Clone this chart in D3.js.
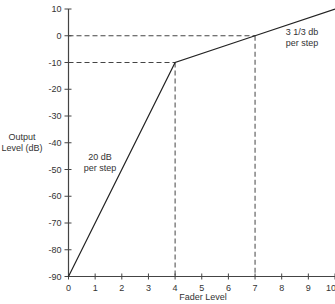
<!DOCTYPE html>
<html>
<head>
<meta charset="utf-8">
<script src="https://cdn.jsdelivr.net/npm/d3@7"></script>
<style>
  body { margin: 0; background: #fff; }
  text { font-family: "Liberation Sans", Arial, sans-serif; font-size: 9px; fill: #333; }
</style>
</head>
<body>
<div id="chart"></div>
<script>
// Fader curve data
var faderLevels = [0, 4, 7, 10];
var outputLevels = [-90, -10, 0, 10];
var xTicks = [0, 1, 2, 3, 4, 5, 6, 7, 8, 9, 10];
var yTicks = [10, 0, -10, -20, -30, -40, -50, -60, -70, -80, -90];

var svgWidth = 335;
var svgHeight = 304;

var svg = d3.select("#chart")
  .append("svg")
  .attr("width", svgWidth)
  .attr("height", svgHeight);

var xScale = d3.scaleLinear().domain([0, 10]).range([68.5, 335]);
var yScale = d3.scaleLinear().domain([-90, 10]).range([276.5, 9]);

var stroke = "#444";

// y axis
svg.append("line")
  .attr("x1", xScale(0)).attr("x2", xScale(0))
  .attr("y1", yScale(10)).attr("y2", yScale(-90))
  .attr("stroke", stroke).attr("stroke-width", 1.2);

svg.selectAll(".ytick")
  .data(yTicks)
  .enter()
  .append("line")
  .attr("x1", xScale(0) - 4).attr("x2", xScale(0) + 3)
  .attr("y1", d => yScale(d)).attr("y2", d => yScale(d))
  .attr("stroke", stroke);

svg.selectAll(".ylabel")
  .data(yTicks)
  .enter()
  .append("text")
  .attr("x", xScale(0) - 7)
  .attr("y", d => yScale(d))
  .attr("dy", "0.35em")
  .style("text-anchor", "end")
  .text(d => d);

// x axis
svg.append("line")
  .attr("x1", xScale(0)).attr("x2", xScale(10))
  .attr("y1", yScale(-90)).attr("y2", yScale(-90))
  .attr("stroke", stroke).attr("stroke-width", 1.2);

svg.selectAll(".xtick")
  .data(xTicks)
  .enter()
  .append("line")
  .attr("x1", d => xScale(d)).attr("x2", d => xScale(d))
  .attr("y1", yScale(-90) - 3).attr("y2", yScale(-90) + 3)
  .attr("stroke", stroke);

svg.selectAll(".xlabel")
  .data(xTicks)
  .enter()
  .append("text")
  .attr("x", d => d === 10 ? xScale(d) - 4 : xScale(d))
  .attr("y", yScale(-90) + 14)
  .style("text-anchor", "middle")
  .text(d => d);

// dashed guides
var guides = [
  [[0, -10], [4, -10]],
  [[0, 0], [7, 0]],
  [[4, -10], [4, -90]],
  [[7, 0], [7, -90]]
];
svg.selectAll(".guide")
  .data(guides)
  .enter()
  .append("line")
  .attr("x1", d => xScale(d[0][0])).attr("y1", d => yScale(d[0][1]))
  .attr("x2", d => xScale(d[1][0])).attr("y2", d => yScale(d[1][1]))
  .attr("stroke", stroke)
  .attr("stroke-dasharray", "5,3");

// curve
var line = d3.line()
  .x((d, i) => xScale(faderLevels[i]))
  .y(d => yScale(d));

svg.append("path")
  .attr("d", line(outputLevels))
  .attr("fill", "none")
  .attr("stroke", "#222")
  .attr("stroke-width", 1.2);

// labels
function twoLine(x, y, a, b) {
  var t = svg.append("text").style("text-anchor", "middle");
  t.append("tspan").attr("x", x).attr("y", y).text(a);
  t.append("tspan").attr("x", x).attr("y", y + 11).text(b);
}

twoLine(22, 140, "Output", "Level (dB)");
twoLine(100, 160, "20 dB", "per step");
twoLine(302, 35, "3 1/3 db", "per step");

svg.append("text")
  .attr("x", 203)
  .attr("y", 300)
  .style("text-anchor", "middle")
  .text("Fader Level");
</script>
</body>
</html>
